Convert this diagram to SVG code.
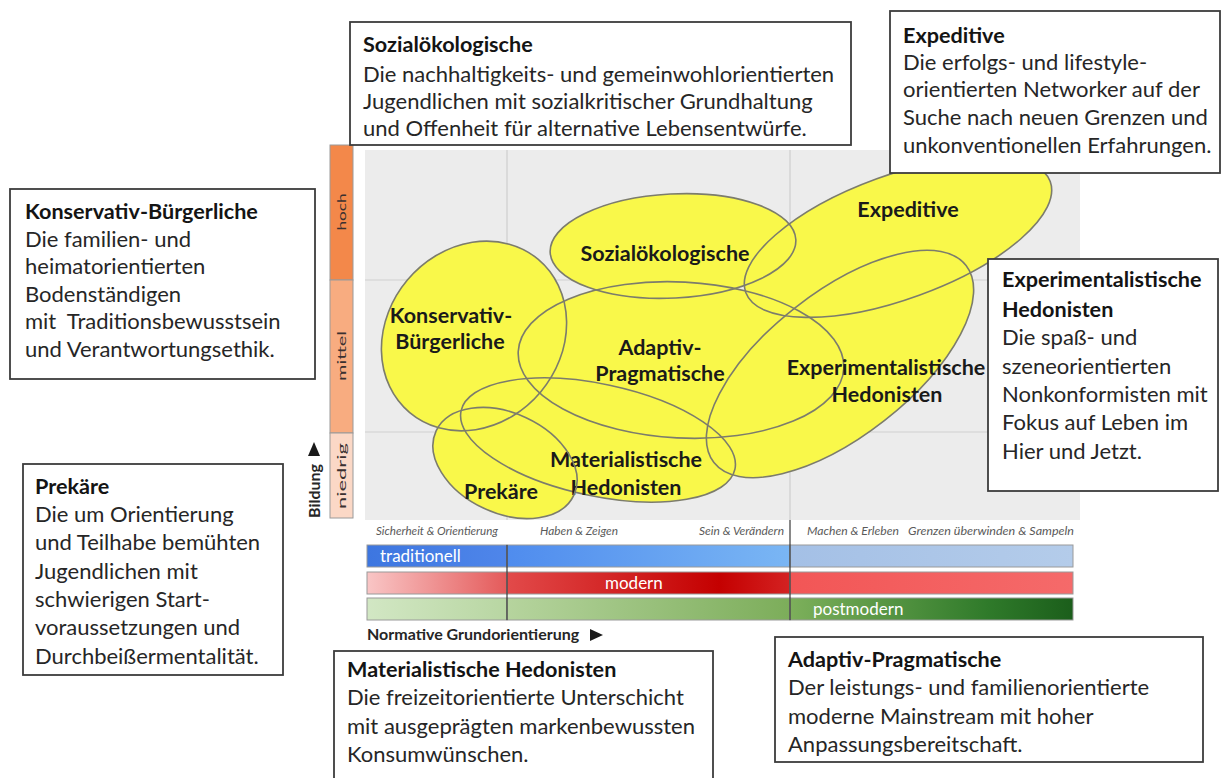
<svg xmlns="http://www.w3.org/2000/svg" width="1222" height="778" viewBox="0 0 1222 778">
<style>
  text { font-family: Lato, "Liberation Sans", sans-serif; }
  .box { fill: #ffffff; stroke: #3c3c3c; stroke-width: 1.8; }
  .bt { font-size: 21.6px; font-weight: bold; fill: #141414; }
  .bd { font-size: 22px; fill: #262626; }
  .fill { fill: #F9F84A; stroke: none; }
  .outl { fill: none; stroke: #7c7c6c; stroke-width: 1.6; }
  .lbl { font-size: 21.5px; font-weight: bold; fill: #1a1a1a; text-anchor: middle; }
  .grid { stroke: #cfcfcf; stroke-width: 1.2; }
  .cat { font-size: 12px; font-style: italic; fill: #5a5a5a; }
  .bar { stroke: #9a9a9a; stroke-width: 1; }
  .barlbl { font-size: 17px; fill: #ffffff; }
  .ax { font-size: 12px; fill: #3a3030; text-anchor: middle; }
  .axt { font-size: 16px; font-weight: bold; fill: #262626; }
</style>
<defs>
  <linearGradient id="tradA" x1="0" x2="1"><stop offset="0" stop-color="#3D76E0"/><stop offset="1" stop-color="#4F86EA"/></linearGradient>
  <linearGradient id="tradB" x1="0" x2="1"><stop offset="0" stop-color="#4F8CEE"/><stop offset="1" stop-color="#7AB6F4"/></linearGradient>
  <linearGradient id="tradC" x1="0" x2="1"><stop offset="0" stop-color="#A4C0E6"/><stop offset="1" stop-color="#B4CCEA"/></linearGradient>
  <linearGradient id="modA" x1="0" x2="1"><stop offset="0" stop-color="#F9C6C6"/><stop offset="1" stop-color="#E45A5A"/></linearGradient>
  <linearGradient id="modB" x1="0" x2="1"><stop offset="0" stop-color="#E24A4A"/><stop offset="0.75" stop-color="#C40000"/><stop offset="1" stop-color="#D42222"/></linearGradient>
  <linearGradient id="modC" x1="0" x2="1"><stop offset="0" stop-color="#F25656"/><stop offset="1" stop-color="#F56A6A"/></linearGradient>
  <linearGradient id="postA" x1="0" x2="1"><stop offset="0" stop-color="#D2E7C4"/><stop offset="1" stop-color="#B8D6A2"/></linearGradient>
  <linearGradient id="postB" x1="0" x2="1"><stop offset="0" stop-color="#B6D49E"/><stop offset="1" stop-color="#7CAD5A"/></linearGradient>
  <linearGradient id="postC" x1="0" x2="1"><stop offset="0" stop-color="#7DB05B"/><stop offset="0.7" stop-color="#2F7A2A"/><stop offset="1" stop-color="#1B5E1B"/></linearGradient>
  <ellipse id="e-kons" cx="0" cy="0" rx="100" ry="87" transform="translate(474 336) rotate(-50)"/>
  <ellipse id="e-soz" cx="0" cy="0" rx="123" ry="52" transform="translate(673 246) rotate(-3)"/>
  <ellipse id="e-exp" cx="0" cy="0" rx="162" ry="62" transform="translate(898 237) rotate(-20)"/>
  <ellipse id="e-adapt" cx="0" cy="0" rx="163" ry="78" transform="translate(681 360) rotate(3)"/>
  <ellipse id="e-exph" cx="0" cy="0" rx="160" ry="72" transform="translate(840 364) rotate(-38)"/>
  <ellipse id="e-mat" cx="0" cy="0" rx="140" ry="56" transform="translate(598 440) rotate(12)"/>
  <ellipse id="e-prek" cx="0" cy="0" rx="76" ry="50" transform="translate(505 463) rotate(25)"/>
</defs>
<rect x="0" y="0" width="1222" height="778" fill="#ffffff"/>

<g id="plot-area">
  <rect x="365" y="150" width="715" height="370" fill="#ececec"/>
  <line class="grid" x1="507" y1="150" x2="507" y2="520"/>
  <line class="grid" x1="790" y1="150" x2="790" y2="520"/>
  <line class="grid" x1="365" y1="280" x2="1080" y2="280"/>
  <line class="grid" x1="365" y1="432" x2="1080" y2="432"/>
</g>

<g id="segment-fills">
  <use href="#e-kons" class="fill"/>
  <use href="#e-soz" class="fill"/>
  <use href="#e-exp" class="fill"/>
  <use href="#e-adapt" class="fill"/>
  <use href="#e-exph" class="fill"/>
  <use href="#e-mat" class="fill"/>
  <use href="#e-prek" class="fill"/>
</g>

<g id="connectors"></g>

<g id="seg-konservativ">
  <use href="#e-kons" class="outl"/>
  <text class="lbl" x="451" y="323">Konservativ-</text>
  <text class="lbl" x="450" y="349">Bürgerliche</text>
</g>
<g id="seg-sozial">
  <use href="#e-soz" class="outl"/>
  <text class="lbl" x="665" y="261">Sozialökologische</text>
</g>
<g id="seg-expeditive">
  <use href="#e-exp" class="outl"/>
  <text class="lbl" x="908" y="217">Expeditive</text>
</g>
<g id="seg-adaptiv">
  <use href="#e-adapt" class="outl"/>
  <text class="lbl" x="660" y="355">Adaptiv-</text>
  <text class="lbl" x="660" y="381">Pragmatische</text>
</g>
<g id="seg-experimental">
  <use href="#e-exph" class="outl"/>
  <text class="lbl" x="886" y="375">Experimentalistische</text>
  <text class="lbl" x="887" y="402">Hedonisten</text>
</g>
<g id="seg-materialist">
  <use href="#e-mat" class="outl"/>
  <text class="lbl" x="626" y="467">Materialistische</text>
  <text class="lbl" x="626" y="495">Hedonisten</text>
</g>
<g id="seg-prekaere">
  <use href="#e-prek" class="outl"/>
  <text class="lbl" x="501" y="499">Prekäre</text>
</g>

<g id="axis-bildung">
  <rect x="330" y="145" width="23" height="135" fill="#F3884A" class="bar"/>
  <rect x="330" y="280" width="23" height="153" fill="#F8AC80" class="bar"/>
  <rect x="330" y="433" width="23" height="85" fill="#FBD8C6" class="bar"/>
  <text class="ax" transform="translate(346 212) rotate(-90)" textLength="37" lengthAdjust="spacingAndGlyphs">hoch</text>
  <text class="ax" transform="translate(346 356) rotate(-90)" textLength="50" lengthAdjust="spacingAndGlyphs">mittel</text>
  <text class="ax" transform="translate(346 476) rotate(-90)" textLength="66" lengthAdjust="spacingAndGlyphs">niedrig</text>
  <text class="axt" transform="translate(320 518) rotate(-90)">Bildung</text>
  <polygon points="308,456 320,456 314,442" fill="#1a1a1a"/>
</g>

<g id="axis-orientierung">
  <text class="cat" x="376" y="535" textLength="122" lengthAdjust="spacingAndGlyphs">Sicherheit &amp; Orientierung</text>
  <text class="cat" x="540" y="535" textLength="78" lengthAdjust="spacingAndGlyphs">Haben &amp; Zeigen</text>
  <text class="cat" x="699" y="535" textLength="85" lengthAdjust="spacingAndGlyphs">Sein &amp; Verändern</text>
  <text class="cat" x="807" y="535" textLength="92" lengthAdjust="spacingAndGlyphs">Machen &amp; Erleben</text>
  <text class="cat" x="908" y="535" textLength="166" lengthAdjust="spacingAndGlyphs">Grenzen überwinden &amp; Sampeln</text>

  <rect x="367" y="545" width="140" height="22" fill="url(#tradA)" class="bar"/>
  <rect x="507" y="545" width="283" height="22" fill="url(#tradB)" class="bar"/>
  <rect x="790" y="545" width="283" height="22" fill="url(#tradC)" class="bar"/>
  <rect x="367" y="572" width="140" height="22" fill="url(#modA)" class="bar"/>
  <rect x="507" y="572" width="283" height="22" fill="url(#modB)" class="bar"/>
  <rect x="790" y="572" width="283" height="22" fill="url(#modC)" class="bar"/>
  <rect x="367" y="598" width="140" height="22" fill="url(#postA)" class="bar"/>
  <rect x="507" y="598" width="283" height="22" fill="url(#postB)" class="bar"/>
  <rect x="790" y="598" width="283" height="22" fill="url(#postC)" class="bar"/>
  <line x1="507" y1="545" x2="507" y2="620" stroke="#3a3a3a" stroke-width="1.2"/>
  <line x1="790" y1="520" x2="790" y2="620" stroke="#3a3a3a" stroke-width="1.2"/>
  <text class="barlbl" x="380" y="562">traditionell</text>
  <text class="barlbl" x="605" y="589">modern</text>
  <text class="barlbl" x="813" y="615">postmodern</text>
  <text class="axt" x="367" y="640">Normative Grundorientierung</text>
  <polygon points="590,629 590,641 603,635" fill="#1a1a1a"/>
</g>

<g id="box-sozial">
  <rect class="box" x="350" y="22" width="501" height="123"/>
  <text class="bt" x="363" y="52">Sozialökologische</text>
  <text class="bd" x="363" y="82">Die nachhaltigkeits- und gemeinwohlorientierten</text>
  <text class="bd" x="363" y="109">Jugendlichen mit sozialkritischer Grundhaltung</text>
  <text class="bd" x="363" y="136">und Offenheit für alternative Lebensentwürfe.</text>
</g>

<g id="box-expeditive">
  <rect class="box" x="890" y="11" width="330" height="162"/>
  <text class="bt" x="903" y="43">Expeditive</text>
  <text class="bd" x="903" y="70">Die erfolgs- und lifestyle-</text>
  <text class="bd" x="903" y="97">orientierten Networker auf der</text>
  <text class="bd" x="903" y="125">Suche nach neuen Grenzen und</text>
  <text class="bd" x="903" y="153">unkonventionellen Erfahrungen.</text>
</g>

<g id="box-konservativ">
  <rect class="box" x="10" y="189" width="305" height="190"/>
  <text class="bt" x="25" y="219">Konservativ-Bürgerliche</text>
  <text class="bd" x="25" y="247">Die familien- und</text>
  <text class="bd" x="25" y="274">heimatorientierten</text>
  <text class="bd" x="25" y="302">Bodenständigen</text>
  <text class="bd" x="25" y="329" xml:space="preserve">mit  Traditionsbewusstsein</text>
  <text class="bd" x="25" y="357">und Verantwortungsethik.</text>
</g>

<g id="box-experimental">
  <rect class="box" x="988" y="259" width="230" height="232"/>
  <text class="bt" x="1002" y="287">Experimentalistische</text>
  <text class="bt" x="1002" y="317">Hedonisten</text>
  <text class="bd" x="1002" y="345">Die spaß- und</text>
  <text class="bd" x="1002" y="374">szeneorientierten</text>
  <text class="bd" x="1002" y="402">Nonkonformisten mit</text>
  <text class="bd" x="1002" y="430">Fokus auf Leben im</text>
  <text class="bd" x="1002" y="459">Hier und Jetzt.</text>
</g>

<g id="box-prekaere">
  <rect class="box" x="23" y="464" width="260" height="211"/>
  <text class="bt" x="35" y="494">Prekäre</text>
  <text class="bd" x="35" y="522">Die um Orientierung</text>
  <text class="bd" x="35" y="550">und Teilhabe bemühten</text>
  <text class="bd" x="35" y="579">Jugendlichen mit</text>
  <text class="bd" x="35" y="607">schwierigen Start-</text>
  <text class="bd" x="35" y="635">voraussetzungen und</text>
  <text class="bd" x="35" y="664">Durchbeißermentalität.</text>
</g>

<g id="box-materialist">
  <rect class="box" x="334" y="651" width="379" height="140"/>
  <text class="bt" x="347" y="677">Materialistische Hedonisten</text>
  <text class="bd" x="347" y="705">Die freizeitorientierte Unterschicht</text>
  <text class="bd" x="347" y="734">mit ausgeprägten markenbewussten</text>
  <text class="bd" x="347" y="762">Konsumwünschen.</text>
</g>

<g id="box-adaptiv">
  <rect class="box" x="775" y="637" width="428" height="125"/>
  <text class="bt" x="788" y="667">Adaptiv-Pragmatische</text>
  <text class="bd" x="788" y="695">Der leistungs- und familienorientierte</text>
  <text class="bd" x="788" y="724">moderne Mainstream mit hoher</text>
  <text class="bd" x="788" y="752">Anpassungsbereitschaft.</text>
</g>
</svg>
